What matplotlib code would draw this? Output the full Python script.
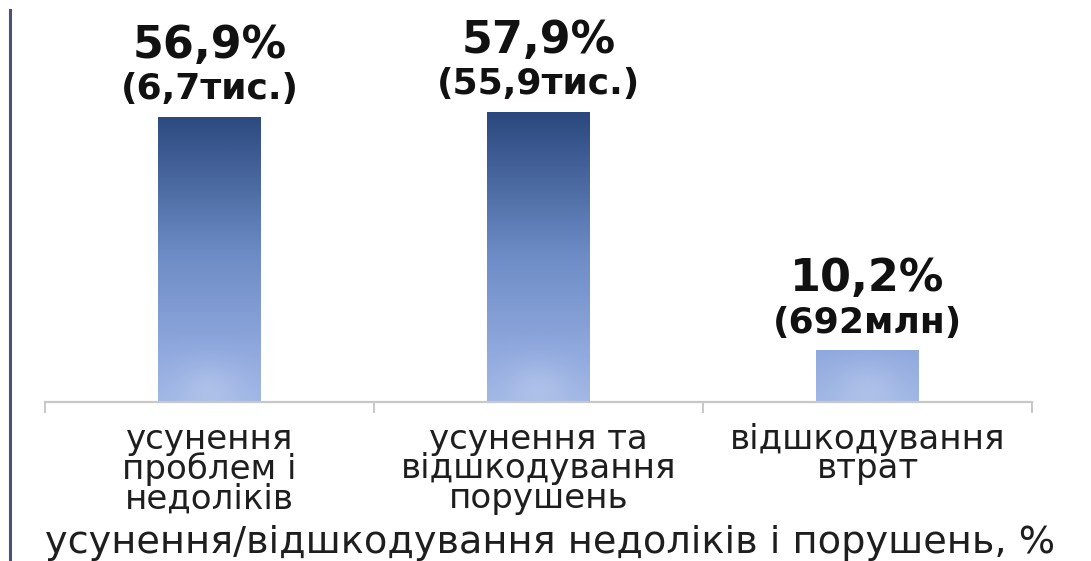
import numpy as np
import matplotlib.pyplot as plt
from matplotlib.colors import LinearSegmentedColormap, Normalize
from matplotlib.lines import Line2D

categories = ["усунення\nпроблем і\nнедоліків",
              "усунення та\nвідшкодування\nпорушень",
              "відшкодування\nвтрат"]
shares = [56.9, 57.9, 10.2]
amounts = ["6,7тис.", "55,9тис.", "692млн"]
axis_title = "усунення/відшкодування недоліків і порушень, %"

fig = plt.figure(figsize=(10.91, 5.61), dpi=100)
ax = fig.add_axes([45 / 1091, 1 - 402 / 561, 987 / 1091, 402 / 561])

x = np.arange(len(shares))
bars = ax.bar(x, shares, width=0.313, color="none", edgecolor="none")

# vertical blue gradient, dark at the top, light near zero
cmap = LinearSegmentedColormap.from_list(
    "bar_blue", [(0.0, "#a0b6e4"), (0.17, "#90a9de"), (0.5, "#6e8cc6"), (1.0, "#2a487e")])
norm = Normalize(0, 58)
glow_col = np.array([0.78, 0.84, 0.95])

for b in bars:
    x0, w, h = b.get_x(), b.get_width(), b.get_height()
    yy = np.linspace(0, h, 300)[:, None]
    xx = np.linspace(-1, 1, 80)[None, :]
    rgba = cmap(norm(yy * np.ones_like(xx)))
    # faint light spot near the bottom of each bar
    glow = 0.38 * np.exp(-((xx / 0.65) ** 2 + ((yy - 2.5) / 5.5) ** 2))
    rgba[..., :3] = rgba[..., :3] * (1 - glow[..., None]) + glow_col * glow[..., None]
    ax.imshow(rgba, origin="lower", extent=(x0, x0 + w, 0, h), aspect="auto",
              clip_path=b, zorder=2, interpolation="bilinear")

ax.set_xlim(-0.5, 2.5)
ax.set_ylim(0, 80.3)

for xi, s, a in zip(x, shares, amounts):
    ax.annotate(f"{s:.1f}%".replace(".", ","), (xi, s), xytext=(0, 72),
                textcoords="offset pixels", ha="center", va="center",
                fontsize=32, fontweight="bold", color="#111111")
    ax.annotate(f"({a})", (xi, s), xytext=(0, 28),
                textcoords="offset pixels", ha="center", va="center",
                fontsize=26, fontweight="bold", color="#111111")

for side in ["top", "left", "right"]:
    ax.spines[side].set_visible(False)
ax.spines["bottom"].set_color("#c8c8c8")
ax.spines["bottom"].set_linewidth(1.6)
ax.set_yticks([])

ax.set_xticks([-0.5, 0.5, 1.5, 2.5])
ax.set_xticklabels([])
ax.tick_params(axis="x", which="major", direction="out", length=8,
               width=1.4, color="#c8c8c8")
ax.set_xticks(x, minor=True)
ax.set_xticklabels(categories, minor=True, fontsize=24.5, color="#1e1e1e",
                   linespacing=0.86)
ax.tick_params(axis="x", which="minor", length=0, pad=15)

ax.set_xlabel(axis_title, fontsize=27.5, color="#1e1e1e", va="center")
ax.xaxis.set_label_coords(0.512, -0.351)

fig.add_artist(Line2D([9.5 / 1091, 9.5 / 1091], [0, 1 - 10 / 561],
                      color="#4b5175", lw=2.2))

fig.savefig("out.png", dpi=100, facecolor="white")
